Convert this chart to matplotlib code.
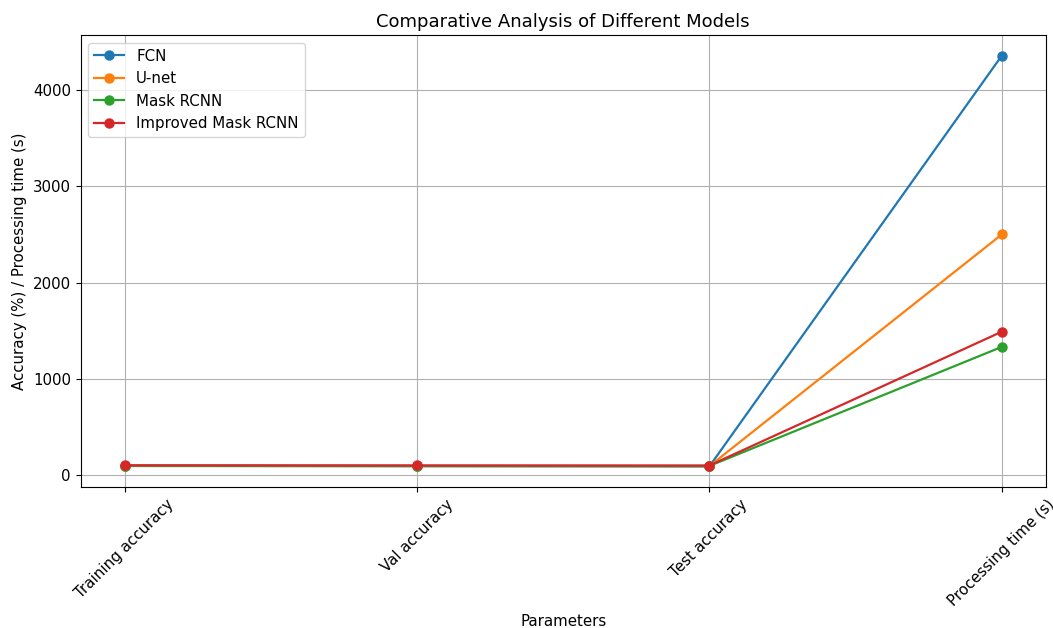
import numpy as np
import matplotlib
matplotlib.use("Agg")
import matplotlib.pyplot as plt

# parameters on the x axis
params = ["Training accuracy", "Val accuracy", "Test accuracy", "Processing time (s)"]

# values
fcn = [90.5, 88.2, 85.6, 4360]
unet = [92.3, 90.1, 88.7, 2500]
mask_rcnn = [94.2, 92.5, 91.3, 1330]
improved_mask_rcnn = [97.8, 96.4, 95.6, 1488]

models = ["FCN", "U-net", "Mask RCNN", "Improved Mask RCNN"]

plt.rcParams["font.size"] = 10.8
plt.rcParams["lines.linewidth"] = 1.6
plt.rcParams["lines.markersize"] = 6.5


def main():
    fig, ax = plt.subplots(figsize=(10.53, 6.28), dpi=100)
    fig.subplots_adjust(left=0.0766, right=0.993, top=0.944, bottom=0.2245)

    for name, vals in zip(models, [fcn, unet, mask_rcnn, improved_mask_rcnn]):
        ax.plot(params, vals, marker="o", label=name)

    ax.set_title("Comparative Analysis of Different Models")
    ax.set_xlabel("Parameters")
    ax.set_ylabel("Accuracy (%) / Processing time (s)")
    plt.xticks(rotation=45)
    ax.legend(loc="upper left")
    ax.grid(True)

    fig.savefig("out.png", dpi=100)


main()
